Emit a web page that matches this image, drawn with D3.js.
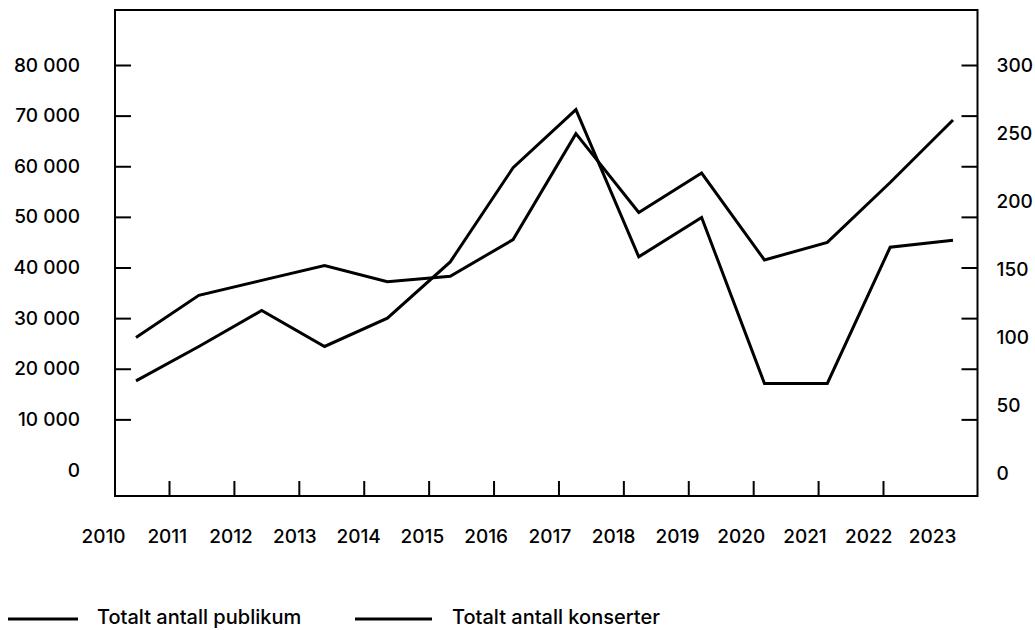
<!DOCTYPE html>
<html>
<head>
<meta charset="utf-8">
<script src="https://cdn.jsdelivr.net/npm/d3@7"></script>
<style>
  body { margin: 0; background: #fff; }
  text { font-family: Inter, "Noto Sans", sans-serif; fill: #000; }
</style>
</head>
<body>
<svg id="chart" width="1035" height="630"></svg>
<script>
// ---- data ----
const years = [2010, 2011, 2012, 2013, 2014, 2015, 2016, 2017, 2018, 2019, 2020, 2021, 2022, 2023];
const publikum = [17600, 24400, 31500, 24400, 30000, 41100, 59700, 71200, 42100, 49900, 17100, 17100, 44000, 45400];
const konserter = [100, 131, 142, 153, 141, 145, 172, 250, 192, 221, 157, 170, 214, 260];
const leftTickValues = [10000, 20000, 30000, 40000, 50000, 60000, 70000, 80000];
const leftLabelValues = [0, 10000, 20000, 30000, 40000, 50000, 60000, 70000, 80000];
const rightLabelValues = [0, 50, 100, 150, 200, 250, 300];
const tickYears = [2011, 2012, 2013, 2014, 2015, 2016, 2017, 2018, 2019, 2020, 2021, 2022];
const seriesNames = ["Totalt antall publikum", "Totalt antall konserter"];

// ---- layout ----
const svg = d3.select("#chart");
const frame = { left: 115, right: 977.5, top: 10, bottom: 496 };

const x = d3.scaleLinear().domain([2010, 2023]).range([136, 953]);
const xLabel = d3.scaleLinear().domain([2010, 2023]).range([103, 932]);
const xTick = d3.scaleLinear().domain([2011, 2022]).range([169, 883]);
const yL = d3.scaleLinear().domain([0, 80000]).range([470, 65]);
const yR = d3.scaleLinear().domain([0, 300]).range([473.3, 65.7]);

const nf = d3.formatLocale({ decimal: ",", thousands: " ", grouping: [3], currency: ["", ""] }).format(",");

// frame
svg.append("rect")
  .attr("x", frame.left).attr("y", frame.top)
  .attr("width", frame.right - frame.left).attr("height", frame.bottom - frame.top)
  .attr("fill", "none").attr("stroke", "#000").attr("stroke-width", 2);

function styleAxis(g) {
  g.select(".domain").remove();
  g.selectAll(".tick line").attr("stroke", "#000").attr("stroke-width", 2);
  g.selectAll(".tick text").attr("fill", "#000")
    .style("font-size", "19px").style("font-weight", 500)
    .style("font-family", "Inter, sans-serif");
}

// left ticks (inward)
svg.append("g").attr("transform", `translate(${frame.left},0)`)
  .call(d3.axisRight(yL).tickValues(leftTickValues).tickSize(16).tickFormat(""))
  .call(styleAxis);
// left labels
svg.append("g").attr("transform", `translate(${frame.left},0)`)
  .call(d3.axisLeft(yL).tickValues(leftLabelValues).tickSize(0).tickPadding(35).tickFormat(nf))
  .call(styleAxis);

// right ticks (inward)
svg.append("g").attr("transform", `translate(${frame.right},0)`)
  .call(d3.axisLeft(yL).tickValues(leftTickValues).tickSize(16).tickFormat(""))
  .call(styleAxis);
// right labels
svg.append("g").attr("transform", `translate(${frame.right},0)`)
  .call(d3.axisRight(yR).tickValues(rightLabelValues).tickSize(0).tickPadding(19).tickFormat(d => d))
  .call(styleAxis);

// bottom ticks (inward)
svg.append("g").attr("transform", `translate(0,${frame.bottom})`)
  .call(d3.axisTop(xTick).tickValues(tickYears).tickSize(15).tickFormat(""))
  .call(styleAxis);
// bottom labels
svg.append("g").attr("transform", `translate(0,${frame.bottom})`)
  .call(d3.axisBottom(xLabel).tickValues(years).tickSize(0).tickPadding(34).tickFormat(d => String(d)))
  .call(styleAxis);

// lines
const lineL = d3.line().x((d, i) => x(years[i])).y(d => yL(d));
const lineR = d3.line().x((d, i) => x(years[i])).y(d => yR(d));

svg.append("path").datum(publikum).attr("d", lineL)
  .attr("fill", "none").attr("stroke", "#000").attr("stroke-width", 3).attr("stroke-linejoin", "miter");
svg.append("path").datum(konserter).attr("d", lineR)
  .attr("fill", "none").attr("stroke", "#000").attr("stroke-width", 3).attr("stroke-linejoin", "miter");

// legend
const legendItems = [
  { name: seriesNames[0], x0: 8, x1: 78, tx: 97 },
  { name: seriesNames[1], x0: 355, x1: 432, tx: 452 }
];
const lg = svg.append("g");
legendItems.forEach(it => {
  lg.append("line").attr("x1", it.x0).attr("x2", it.x1).attr("y1", 619).attr("y2", 619)
    .attr("stroke", "#000").attr("stroke-width", 3);
  lg.append("text").attr("x", it.tx).attr("y", 624)
    .style("font-size", "20px").style("font-weight", 500).text(it.name);
});
</script>
</body>
</html>
